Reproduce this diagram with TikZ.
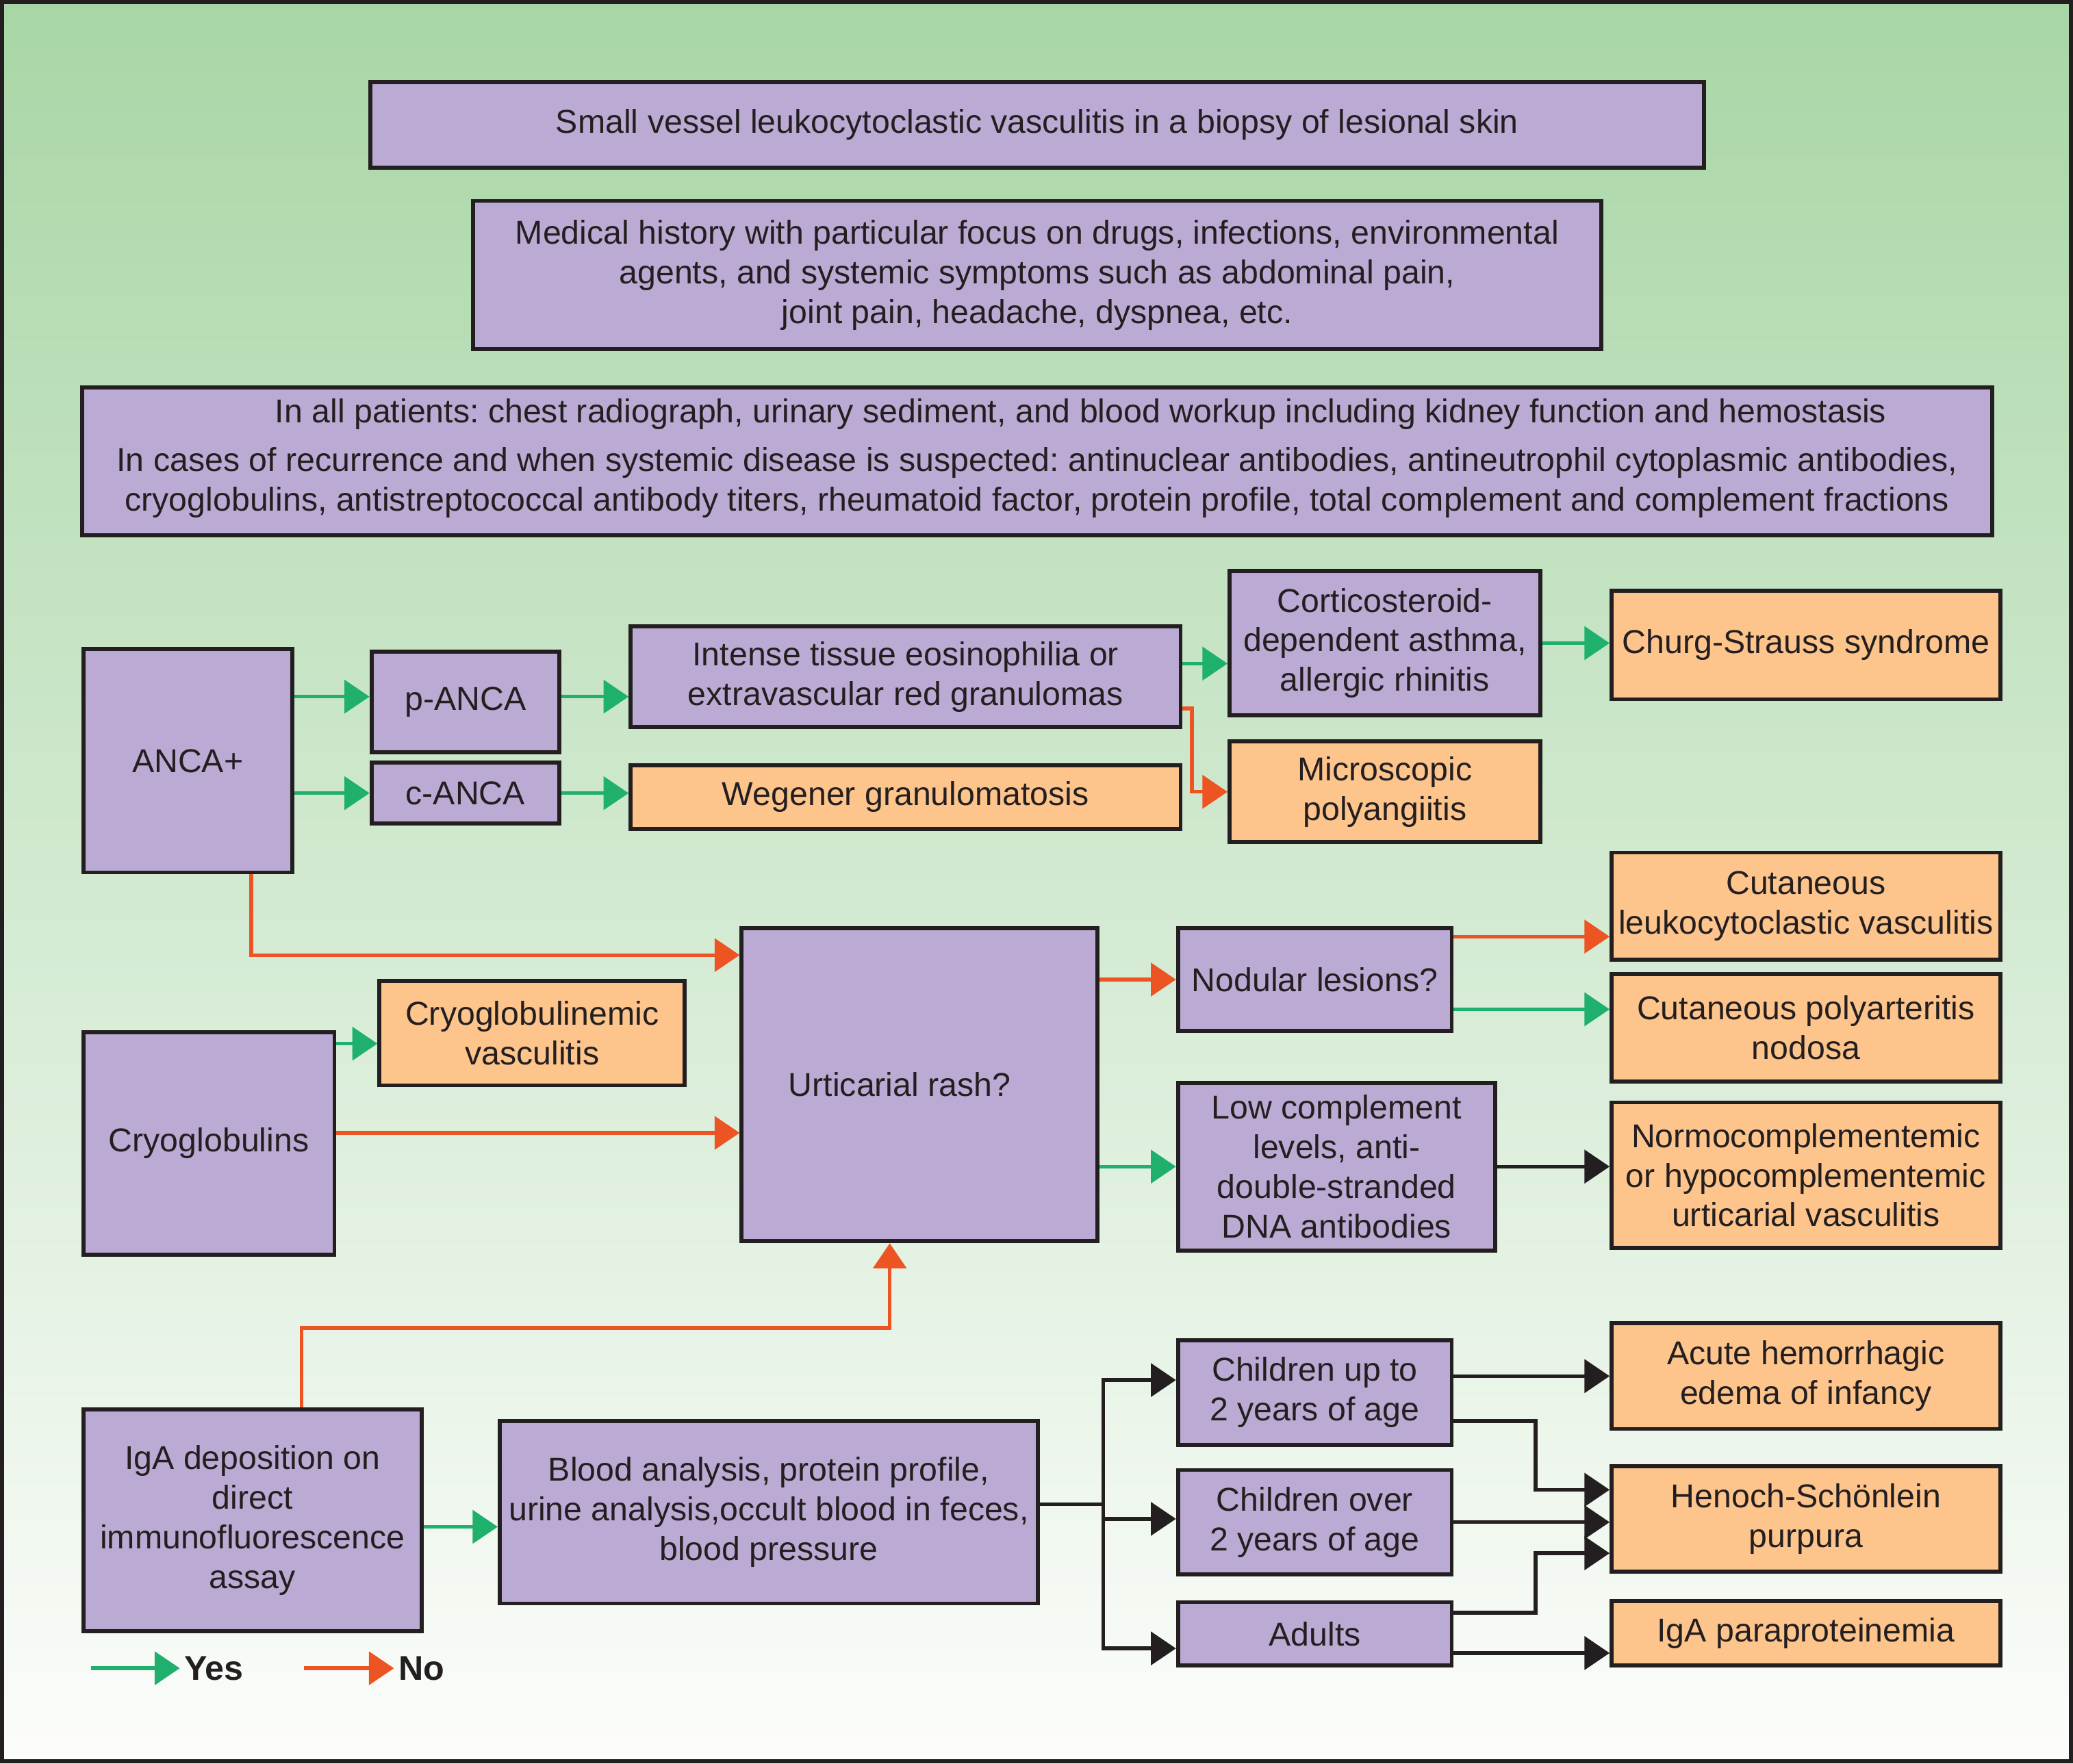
\documentclass[tikz,border=0pt]{standalone}
\usepackage{fontspec}
\setmainfont{Liberation Sans}
\usepackage{tikz}
\usetikzlibrary{arrows.meta,positioning,calc}
\definecolor{Frame}{RGB}{35,31,32}
\definecolor{BoxFill}{RGB}{187,171,212}
\definecolor{Outcome}{RGB}{253,196,140}
\definecolor{YesGreen}{RGB}{32,176,110}
\definecolor{NoRed}{RGB}{236,84,36}
\definecolor{BgTop}{RGB}{168,214,166}
\definecolor{BgMid}{RGB}{212,234,210}
\definecolor{BgBottom}{RGB}{252,253,251}
\frenchspacing

\begin{document}
\begin{tikzpicture}[x=0.5pt, y=-0.5pt,
       >={Triangle[length=9.5pt,width=12.5pt]}, text=Frame,
       every node/.style={font=\fontsize{12.5}{15}\selectfont},
       decision/.style 2 args = {rectangle, minimum width=#1, minimum height=#2,
                                 line width=1.5pt, draw=Frame, fill=BoxFill,
                                 align=center, inner sep=2pt},
       diagnosis/.style 2 args = {decision={#1}{#2}, fill=Outcome},
       yesflow/.style = {->, line width=1.4pt, YesGreen},
       noflow/.style = {->, line width=1.4pt, NoRed},
       flow/.style = {->, line width=1.4pt, Frame},
       legend/.style = {font=\bfseries\fontsize{13}{15}\selectfont, inner sep=1.5pt, anchor=west}]
	%% Background
	\useasboundingbox (0,0) rectangle (1568,1334);
	\shade[top color=BgTop, middle color=BgMid, bottom color=BgBottom] (0,0) rectangle (1568,1334);
	\draw[Frame, line width=1.5pt] (1.5,1.5) rectangle (1566.5,1332.5);

	%% Work-up
	\node [decision={504.5pt}{32.5pt}] (biopsy) at (784.5,94.5) {Small vessel leukocytoclastic vasculitis in a biopsy of lesional skin};
	\node [decision={426.5pt}{56pt}] (history) at (784.5,208) {Medical history with particular focus on drugs, infections, environmental\\agents, and systemic symptoms such as abdominal pain,\\joint pain, headache, dyspnea, etc.};
	\node [decision={722.5pt}{56pt}, text depth=5pt] (workup) at (784.5,349) {\hspace*{33pt}In all patients: chest radiograph, urinary sediment, and blood workup including kidney function and hemostasis\\[3.5pt]In cases of recurrence and when systemic disease is suspected: antinuclear antibodies, antineutrophil cytoplasmic antibodies,\\cryoglobulins, antistreptococcal antibody titers, rheumatoid factor, protein profile, total complement and complement fractions};

	%% ANCA
	\node [decision={79pt}{84.5pt}] (anca) at (142,575.5) {ANCA+};
	\node [decision={71pt}{38pt}] (pANCA) at (352,531) {p-ANCA};
	\node [decision={71pt}{23pt}] (cANCA) at (352,600) {c-ANCA};
	\node [decision={208pt}{38pt}] (eos) at (685,512) {Intense tissue eosinophilia or\\extravascular red granulomas};
	\node [diagnosis={208pt}{24pt}] (wegener) at (685,603) {Wegener granulomatosis};
	\node [decision={117.5pt}{54.5pt}] (cortico) at (1047.5,486.5) {Corticosteroid-\\dependent asthma,\\allergic rhinitis};
	\node [diagnosis={117.5pt}{38pt}] (mpa) at (1047.5,599) {Microscopic\\polyangiitis};
	\node [diagnosis={147pt}{41pt}] (churg) at (1366,488) {Churg-Strauss syndrome};

	%% Urticarial rash
	\node [decision={134.5pt}{118.5pt}] (urticaria) at (695.5,820.5) {Urticarial rash?\hspace*{15pt}};
	\node [decision={103.5pt}{39pt}] (nodular) at (994.5,741) {Nodular lesions?};
	\node [diagnosis={147pt}{40.5pt}] (cutlv) at (1366,685.5) {Cutaneous\\leukocytoclastic vasculitis};
	\node [diagnosis={147pt}{40.5pt}] (cutpan) at (1366,777.5) {Cutaneous polyarteritis\\nodosa};
	\node [diagnosis={115.5pt}{39.5pt}] (cryovasc) at (402.5,781.5) {Cryoglobulinemic\\vasculitis};
	\node [decision={95pt}{84pt}] (cryo) at (158,865) {Cryoglobulins};
	\node [decision={120pt}{63.5pt}] (lowcomp) at (1011,882.5) {Low complement\\levels, anti-\\double-stranded\\DNA antibodies};
	\node [diagnosis={147pt}{55pt}] (normo) at (1366,889) {Normocomplementemic\\or hypocomplementemic\\urticarial vasculitis};

	%% IgA
	\node [decision={128pt}{84pt}] (iga) at (191,1150) {IgA deposition on\\direct\\immunofluorescence\\assay};
	\node [decision={203.5pt}{69pt}] (blood) at (581.5,1144) {Blood analysis, protein profile,\\urine analysis,occult blood in feces,\\blood pressure};
	\node [decision={103.5pt}{39.5pt}] (under2) at (994.5,1053.5) {Children up to\\2 years of age};
	\node [decision={103.5pt}{39.5pt}] (over2) at (994.5,1151.5) {Children over\\2 years of age};
	\node [decision={103.5pt}{24pt}] (adults) at (994.5,1236) {Adults};
	\node [diagnosis={147pt}{40pt}] (ahei) at (1366,1041) {Acute hemorrhagic\\edema of infancy};
	\node [diagnosis={147pt}{40pt}] (hsp) at (1366,1149) {Henoch-Schönlein\\purpura};
	\node [diagnosis={147pt}{24.5pt}] (igapara) at (1366,1235.5) {IgA paraproteinemia};

	%% Legend
	\node [legend] (yeslabel) at (136,1262) {Yes};
	\node [legend] (nolabel) at (298,1262) {No};
	\coordinate (yesstart) at (69,1262);
	\coordinate (nostart) at (230,1262);
	\draw[yesflow] (yesstart) -- (yeslabel.west);
	\draw[noflow] (nostart) -- (nolabel.west);

	%% ANCA paths
	\coordinate (p1) at ([yshift=2pt]pANCA.west);
	\draw[yesflow] (p1 -| anca.east) -- (p1);
	\draw[yesflow] (anca.east |- cANCA.west) -- (cANCA.west);
	\draw[yesflow] (pANCA.east |- p1) -- (p1 -| eos.west);
	\draw[yesflow] (cANCA.east) -- (cANCA.east -| wegener.west);
	\coordinate (e1) at ([yshift=5pt]eos.east);
	\draw[yesflow] (e1) -- (e1 -| cortico.west);
	\draw[noflow] ([yshift=-12pt]eos.east) -| ([xshift=-13.5pt]mpa.west) -- (mpa.west);
	\draw[yesflow] (cortico.east) -- (cortico.east -| churg.west);

	%% Urticarial rash paths
	\draw[noflow] ([xshift=24pt]anca.south) |- ([yshift=-11pt]urticaria.north west);
	\coordinate (c1) at ([yshift=-5pt]cryo.north east);
	\draw[yesflow] (c1) -- (c1 -| cryovasc.west);
	\coordinate (c2) at ([yshift=4pt]cryo.east);
	\draw[noflow] (c2) -- (c2 -| urticaria.west);
	\draw[noflow] ([xshift=18.5pt]iga.north) |- ([xshift=-11.25pt,yshift=-32pt]urticaria.south) -- ([xshift=-11.25pt]urticaria.south);
	\draw[noflow] (urticaria.east |- nodular.west) -- (nodular.west);
	\draw[yesflow] (urticaria.east |- lowcomp.west) -- (lowcomp.west);
	\coordinate (n1) at ([yshift=-4pt]nodular.north east);
	\draw[noflow] (n1) -- (n1 -| cutlv.west);
	\coordinate (n2) at ([yshift=9pt]nodular.south east);
	\draw[yesflow] (n2) -- (n2 -| cutpan.west);
	\draw[flow] (lowcomp.east) -- (lowcomp.east -| normo.west);

	%% IgA paths
	\coordinate (i1) at ([yshift=-2.5pt]iga.east);
	\draw[yesflow] (i1) -- (i1 -| blood.west);
	\coordinate (split) at ([xshift=24pt,yshift=3pt]blood.east);
	\draw[line width=1.4pt, Frame] ([yshift=3pt]blood.east) -- (split);
	\draw[flow] (split) |- ([yshift=4.75pt]under2.west);
	\draw[flow] (split) |- ([yshift=1.25pt]over2.west);
	\draw[flow] (split) |- ([yshift=-5.5pt]adults.west);
	\draw[flow] (under2.east |- ahei.west) -- (ahei.west);
	\draw[flow] ([yshift=-10.75pt]under2.east) -| ([xshift=-28pt,yshift=11pt]hsp.west) -- ([yshift=11pt]hsp.west);
	\draw[flow] (over2.east) -- (over2.east -| hsp.west);
	\draw[flow] ([yshift=8pt]adults.east) -| ([xshift=-28pt,yshift=-13pt]hsp.west) -- ([yshift=-13pt]hsp.west);
	\coordinate (a1) at ([yshift=-7.25pt]adults.east);
	\draw[flow] (a1) -- (a1 -| igapara.west);
\end{tikzpicture}
\end{document}
